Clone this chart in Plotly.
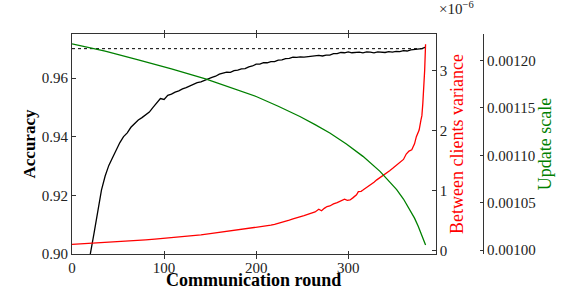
import plotly.graph_objects as go

# ---------------- data ----------------
acc_rounds = list(range(0, 385, 4))
accuracy = [
    0.830, 0.855, 0.872, 0.884, 0.8925, 0.9002, 0.9072, 0.9146, 0.9218, 0.9266,
    0.9302, 0.9328, 0.9355, 0.9380, 0.9400, 0.9413, 0.9432, 0.9444, 0.9457, 0.9465,
    0.9476, 0.9484, 0.9500, 0.9515, 0.9530, 0.9527, 0.9541, 0.9545, 0.9552, 0.9556,
    0.9563, 0.9567, 0.9573, 0.9577, 0.9584, 0.9587, 0.9593, 0.9597, 0.9602, 0.9606,
    0.9613, 0.9616, 0.9620, 0.9619, 0.9625, 0.9627, 0.9631, 0.9632, 0.9638, 0.9641,
    0.9647, 0.9647, 0.9652, 0.9652, 0.9656, 0.9656, 0.9661, 0.9662, 0.9666, 0.9667,
    0.9671, 0.9670, 0.9672, 0.9671, 0.9673, 0.9673, 0.9675, 0.9677, 0.9675, 0.9678,
    0.9678, 0.9683, 0.9683, 0.9687, 0.9686, 0.9689, 0.9686, 0.9687, 0.9688, 0.9686,
    0.9689, 0.9688, 0.9686, 0.9689, 0.9689, 0.9687, 0.9690, 0.9688, 0.9691, 0.9690,
    0.9693, 0.9692, 0.9696, 0.9697, 0.9700, 0.9700, 0.9705,
]

target_rounds = [0, 384]
target_accuracy = [0.97, 0.97]

var_rounds = [
    0, 10, 20, 30, 40, 50, 60, 70, 80, 90, 100, 110, 120, 130, 140, 150, 160, 170,
    180, 190, 196, 200, 204, 208, 212, 216, 220, 224, 228, 232, 236, 240, 244, 248,
    252, 256, 260, 264, 268, 271, 274, 277, 280, 284, 288, 291, 294, 296, 299, 302,
    305, 307, 309, 311, 314, 316, 320, 324, 328, 331, 334, 338, 342, 345, 349, 353,
    357, 360, 363, 366, 369, 372, 374, 377, 379, 380, 381, 382, 383, 384,
]
variance_e6 = [
    0.107, 0.115, 0.124, 0.133, 0.142, 0.152, 0.162, 0.171, 0.180, 0.192, 0.204,
    0.215, 0.230, 0.246, 0.262, 0.283, 0.303, 0.322, 0.342, 0.366, 0.378, 0.383,
    0.395, 0.405, 0.413, 0.425, 0.440, 0.455, 0.480, 0.492, 0.510, 0.530, 0.545,
    0.565, 0.585, 0.605, 0.625, 0.645, 0.690, 0.665, 0.705, 0.735, 0.745, 0.780,
    0.800, 0.817, 0.840, 0.857, 0.840, 0.845, 0.880, 0.900, 0.930, 0.983, 0.990,
    1.010, 1.050, 1.095, 1.140, 1.180, 1.210, 1.260, 1.300, 1.333, 1.380, 1.430,
    1.480, 1.520, 1.610, 1.660, 1.680, 1.780, 1.900, 2.010, 2.180, 2.250, 2.450,
    2.700, 3.000, 3.440,
]

scale_rounds = [0, 36, 72, 108, 145, 172, 200, 224, 247.5, 264, 280, 298, 316,
                334.5, 352.6, 360, 367, 372, 376, 379, 381.5, 384]
update_scale = [
    0.00121760, 0.00120990, 0.00120080, 0.00119130, 0.00118070, 0.00117190,
    0.00116210, 0.00115180, 0.00114100, 0.00113240, 0.00112360, 0.00111200,
    0.00109895, 0.00108316, 0.00106390, 0.00105400, 0.00104284, 0.00103380,
    0.00102526, 0.00101800, 0.00101126, 0.00100550,
]

x_ticks = [0, 100, 200, 300]
acc_ticks = [0.90, 0.92, 0.94, 0.96]
var_ticks = [0, 1, 2, 3]
scale_ticks = [0.00100, 0.00105, 0.00110, 0.00115, 0.00120]

# ---------------- figure ----------------
FONT = "Liberation Serif"
TICK = dict(family=FONT, size=15, color="#222222")
AX = "#333333"

fig = go.Figure()
fig.add_trace(go.Scatter(x=acc_rounds, y=accuracy, mode="lines",
                         line=dict(color="black", width=1.3), yaxis="y"))
fig.add_trace(go.Scatter(x=target_rounds, y=target_accuracy, mode="lines",
                         line=dict(color="black", width=1, dash="dot"), yaxis="y"))
fig.add_trace(go.Scatter(x=var_rounds, y=variance_e6, mode="lines",
                         line=dict(color="red", width=1.3), yaxis="y2"))
fig.add_trace(go.Scatter(x=scale_rounds, y=update_scale, mode="lines",
                         line=dict(color="green", width=1.3), yaxis="y3"))

W_PLOT = 581 - 72 - 98
H_PLOT = 291 - 34 - 37
xdom = 363.7 / W_PLOT

common = dict(ticks="inside", ticklen=3.5, tickcolor=AX, showgrid=False,
              zeroline=False, showline=True, linecolor=AX, linewidth=1,
              tickfont=dict(TICK), automargin=False)

fig.update_layout(
    width=581, height=291,
    margin=dict(l=72, r=98, t=34, b=37, pad=0, autoexpand=False),
    paper_bgcolor="white", plot_bgcolor="white",
    showlegend=False,
    font=dict(family=FONT, size=15, color="#222222"),
    xaxis=dict(
        domain=[0, xdom], range=[0, 395], tickvals=x_ticks, mirror="allticks",
        **common,
    ),
    yaxis=dict(
        range=[0.9, 0.975], tickvals=acc_ticks, tickformat=".2f",
        title=dict(text="<b>Accuracy</b>",
                   font=dict(family=FONT, size=17, color="black"), standoff=1),
        **common,
    ),
    yaxis2=dict(
        overlaying="y", side="right", anchor="x",
        range=[-0.055, 3.61], tickvals=var_ticks,
        title=dict(text="Between clients variance",
                   font=dict(family=FONT, size=18, color="red"), standoff=3),
        **common,
    ),
    yaxis3=dict(
        overlaying="y", side="right", anchor="free", position=1.0,
        range=[0.000996, 0.001228], tickvals=scale_ticks, tickformat=".5f",
        title=dict(text="Update scale",
                   font=dict(family=FONT, size=18, color="green"), standoff=3),
        **common,
    ),
    annotations=[
        dict(text="×10<sup>−6</sup>", xref="paper", yref="paper",
             x=(437 - 72) / W_PLOT, y=1 + (34 - 8) / H_PLOT,
             xanchor="left", yanchor="middle", showarrow=False, font=dict(TICK)),
        dict(text="<b>Communication round</b>", xref="paper", yref="paper",
             x=xdom / 2, y=-(279.5 - 254) / H_PLOT,
             xanchor="center", yanchor="middle", showarrow=False,
             font=dict(family=FONT, size=18, color="black")),
    ],
)

fig.write_html(
    "out.html",
    config={"displayModeBar": False},
    post_script="document.body.style.margin='0';document.body.style.padding='0';"
                "document.body.style.overflow='hidden';",
)
